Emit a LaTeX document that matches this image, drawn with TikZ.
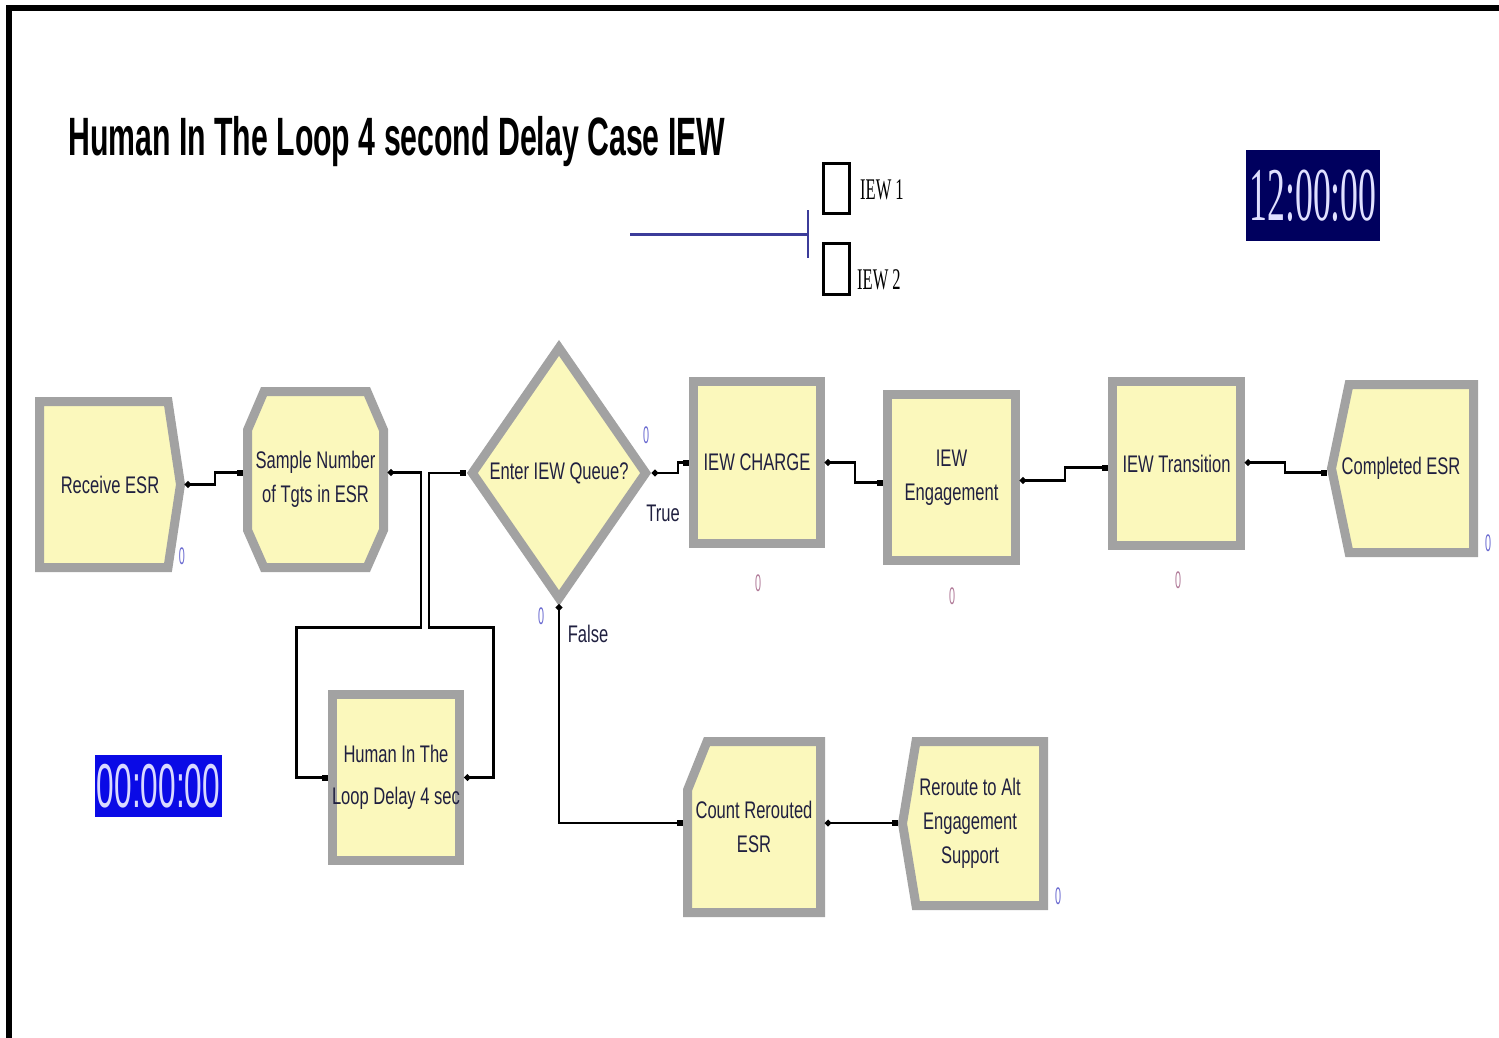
\documentclass[tikz,border=0pt]{standalone}
\usepackage{fontspec}
\usetikzlibrary{shapes.geometric,arrows.meta}
\newfontfamily\arenafont[FakeStretch=0.69]{Liberation Sans}
\newfontfamily\zerofont[FakeStretch=0.45]{Liberation Sans}
\newfontfamily\titlefont[FakeStretch=0.56]{Liberation Sans}
\newfontfamily\legendfont[FakeStretch=0.55]{Liberation Serif}
\newfontfamily\clockfont[FakeStretch=0.47]{Liberation Serif}
\newfontfamily\timerfont[FakeStretch=0.51]{Liberation Sans}

\begin{document}
\begin{tikzpicture}[x=1pt,y=-1pt,
    block/.style={draw=blockGrey, line width=9pt, fill=blockFill, inner sep=0pt,
        text=labelNavy, align=center, font=\arenafont\fontsize{24}{34}\selectfont},
    blockpath/.style={draw=blockGrey, line width=9pt, fill=blockFill},
    blocktext/.style={block, draw=none, fill=none},
    conn/.style={line width=2.5pt, arrows={Circle[length=6pt]-Square[length=6pt,width=6pt]}},
    zerolabel/.style={inner sep=0pt, font=\zerofont\fontsize{24}{24}\selectfont},
    branch/.style={inner sep=0pt, text=labelNavy, font=\arenafont\fontsize{24}{24}\selectfont},
]
    % Define colours
    \definecolor{blockGrey}{HTML}{A2A2A2}
    \definecolor{blockFill}{HTML}{FBF8BC}
    \definecolor{labelNavy}{HTML}{202040}
    \definecolor{zeroBlue}{HTML}{6A6AD0}
    \definecolor{zeroPink}{HTML}{B07A98}
    \definecolor{legendBlue}{HTML}{3C3C9A}
    \definecolor{clockNavy}{HTML}{00005E}
    \definecolor{timerBlue}{HTML}{0A0AE6}

    % Fix the page size and draw the frame
    \useasboundingbox (0,0) rectangle (1499,1038);
    \fill[black] (6,5) rectangle (1499,11);
    \fill[black] (6,5) rectangle (12,1038);

    % Title
    \node[anchor=base west, inner sep=0pt, font=\titlefont\bfseries\fontsize{54}{54}\selectfont] (title) at (68,155)
        {Human In The Loop 4 second Delay Case IEW};

    % Legend
    \node[draw, line width=2.5pt, minimum width=26pt, minimum height=50pt, inner sep=0pt] (iewBoxA) at (836.5,188.5) {};
    \node[draw, line width=2.5pt, minimum width=26pt, minimum height=51pt, inner sep=0pt] (iewBoxB) at (836.5,269) {};
    \node[anchor=west, inner sep=0pt, font=\legendfont\fontsize{30}{30}\selectfont] (iewTextA) at (860,190) {IEW 1};
    \node[anchor=west, inner sep=0pt, font=\legendfont\fontsize{30}{30}\selectfont] (iewTextB) at (857,280) {IEW 2};
    \coordinate (legStart) at (630,234);
    \coordinate (legEnd) at (808,234);
    \draw[legendBlue, line width=3pt] (legStart) -- (legEnd);
    \draw[legendBlue, line width=2pt] ([yshift=24pt]legEnd) -- ([yshift=-24pt]legEnd);

    % Clocks
    \node[fill=clockNavy, minimum width=134pt, minimum height=91pt, inner sep=0pt, text=white!88!blue,
        font=\clockfont\fontsize{76}{76}\selectfont] (simClock) at (1313,195.5) {12:00:00};
    \node[fill=timerBlue, minimum width=127pt, minimum height=62pt, inner sep=0pt, text=blue!15!white,
        font=\timerfont\fontsize{62}{62}\selectfont] (simTimer) at (158.5,786) {00:00:00};

    % Outlines of the create, assign, record and dispose modules
    \filldraw[blockpath] (39.5,401.5) -- (168,401.5) -- (180.5,484.5) -- (168,567.5) -- (39.5,567.5) -- cycle;
    \filldraw[blockpath] (247.5,430) -- (264,391.5) -- (367,391.5) -- (383.5,430) -- (383.5,530)
        -- (367,567.5) -- (264,567.5) -- (247.5,530) -- cycle;
    \filldraw[blockpath] (1349,384.5) -- (1473.5,384.5) -- (1473.5,552.5) -- (1349,552.5) -- (1331.5,468.5) -- cycle;
    \filldraw[blockpath] (687.5,790) -- (707,741.5) -- (820.5,741.5) -- (820.5,912.5) -- (687.5,912.5) -- cycle;
    \filldraw[blockpath] (916,741.5) -- (1043.5,741.5) -- (1043.5,905.5) -- (916,905.5) -- (902.5,823.5) -- cycle;

    % Modules of the main line
    \node[blocktext, minimum width=141pt, minimum height=166pt] (recv) at (110,484.5) {Receive ESR};
    \node[blocktext, minimum width=136pt, minimum height=176pt] (sample) at (315.5,479.5) {Sample Number\\of Tgts in ESR};
    \node[block, diamond, minimum width=177pt, minimum height=254pt] (queue) at (559,473) {Enter IEW Queue?};
    \node[block, rectangle, minimum width=127pt, minimum height=162pt] (charge) at (757,462.5) {IEW CHARGE};
    \node[block, rectangle, minimum width=128pt, minimum height=166pt] (engage) at (951.5,477.5) {IEW\\Engagement};
    \node[block, rectangle, minimum width=128pt, minimum height=164pt] (trans) at (1176.5,463.5) {IEW Transition};
    \node[blocktext, minimum width=139pt, minimum height=168pt] (done) at (1401,468.5) {Completed ESR};

    % Delay loop and reroute branch
    \node[block, rectangle, minimum width=127pt, minimum height=166pt] (human) at (396,777.5) {Human In The\\[8pt]Loop Delay 4 sec};
    \node[blocktext, minimum width=133pt, minimum height=171pt] (count) at (754,827) {Count Rerouted\\ESR};
    \node[blocktext, minimum width=135pt, minimum height=164pt] (reroute) at (970,823.5) {Reroute to Alt\\Engagement\\Support};

    % Connectors
    \draw[conn] (recv.east) -- ++(30,0) |- ([yshift=7pt]sample.west);
    \draw[conn] ([yshift=7pt]sample.east) -- ++(33,0) -- ++(0,155) -| ([xshift=-31pt]human.west) -- (human.west);
    \draw[conn] (human.east) -- ++(29,0) -- ++(0,-150) -| ([xshift=-37pt]queue.west) -- (queue.west);
    \draw[conn] (queue.east) -- ++(26,0) |- (charge.west);
    \draw[conn] (charge.east) -- ++(30,0) |- ([yshift=-5pt]engage.west);
    \draw[conn] ([yshift=-3pt]engage.east) -- ++(45,0) |- ([yshift=-4pt]trans.west);
    \draw[conn] ([yshift=1pt]trans.east) -- ++(40,0) |- ([yshift=-4pt]done.west);
    \draw[conn] (queue.south) |- ([yshift=4pt]count.west);
    \draw[conn] ([yshift=4pt]count.east) -- ([yshift=4pt]count.east -| reroute.west);

    % Branch labels
    \node[branch] (trueLabel) at (663,513) {True};
    \node[branch] (falseLabel) at (588,634) {False};

    % Entity counters
    \node[zerolabel, text=zeroBlue] (recvZero) at (182,556) {0};
    \node[zerolabel, text=zeroBlue] (queueZeroA) at (646,435) {0};
    \node[zerolabel, text=zeroBlue] (queueZeroB) at (541,616) {0};
    \node[zerolabel, text=zeroPink] (chargeZero) at (758,583) {0};
    \node[zerolabel, text=zeroPink] (engageZero) at (952,596) {0};
    \node[zerolabel, text=zeroPink] (transZero) at (1178,580) {0};
    \node[zerolabel, text=zeroBlue] (doneZero) at (1488,543) {0};
    \node[zerolabel, text=zeroBlue] (rerouteZero) at (1058,896) {0};

\end{tikzpicture}
\end{document}
